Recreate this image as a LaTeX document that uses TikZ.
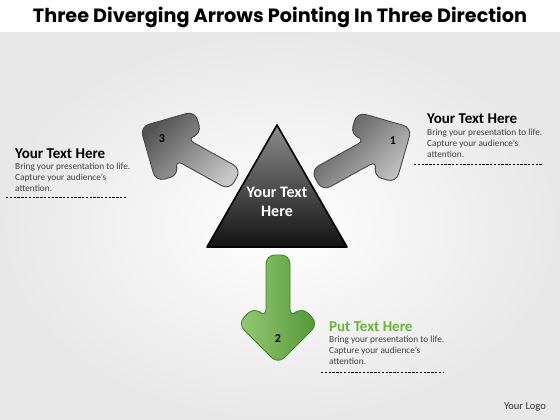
\documentclass[tikz,border=0pt]{standalone}
\usepackage{fontspec}
\setmainfont{Carlito}
\newfontfamily\titlefont{Poppins}
\usetikzlibrary{positioning}

\definecolor{leafgreen}{HTML}{6AB43A}
\definecolor{leafdark}{HTML}{3F8A22}

\tikzset{
  pics/fatarrow/.style={code={
    \path[#1] (16.97,0) -- (-23.33,40.31) -- (-40.31,23.33) -- (-28.97,12)
      -- (-92,12) -- (-92,-12) -- (-28.97,-12) -- (-40.31,-23.33)
      -- (-23.33,-40.31) -- cycle;
  }},
  arrowgray/.style={draw=black!72, line width=0.9pt, rounded corners=9pt,
    top color=black!68, bottom color=black!22, shading angle=45},
  arrowgreen/.style={draw=leafdark, line width=0.9pt, rounded corners=9pt,
    left color=leafgreen!70!white, right color=leafdark!90, shading angle=90},
  heading/.style={anchor=base west, inner sep=0pt, font=\bfseries\fontsize{15}{17}\selectfont},
  bodytext/.style={anchor=north west, inner sep=0pt, align=left, text=black!75,
    font=\fontsize{9.3}{11}\selectfont},
  numlabel/.style={font=\bfseries\fontsize{12}{14}\selectfont},
  rule/.style={dash pattern=on 2.4pt off 1.4pt, line width=0.8pt}
}

\begin{document}
\begin{tikzpicture}[x=1pt,y=-1pt]
    \useasboundingbox (0,0) rectangle (560,420);
    % Background
    \fill[white] (0,0) rectangle (560,420);
    \shade[inner color=white, outer color=black!9] (0,33) rectangle (560,420);

    % Title
    \node[font=\titlefont\bfseries\fontsize{19.2}{22}\selectfont] (title) at (280,17)
      {Three Diverging Arrows Pointing In Three Direction};

    % Arrows
    \pic[rotate=29] at (397,136) {fatarrow=arrowgray};
    \pic[rotate=151] at (155,135) {fatarrow=arrowgray};
    \pic[rotate=-90] at (278,347) {fatarrow=arrowgreen};
    \node[numlabel] (n1) at (393,141) {1};
    \node[numlabel] (n2) at (278,339) {2};
    \node[numlabel] (n3) at (162,139) {3};

    % Centre triangle
    \coordinate (apex) at (277,125);
    \coordinate (baseR) at (347,247);
    \coordinate (baseL) at (207,247);
    \shade[draw=black, line width=1.6pt, line join=round, top color=black!45,
      middle color=black!93, bottom color=black!93] (apex) -- (baseR) -- (baseL) -- cycle;
    \node[text=white, align=center, font=\bfseries\fontsize{16}{19}\selectfont] (centre)
      at (277,202) {Your Text\\Here};

    % Right text block
    \node[heading] (headR) at (427,124) {Your Text Here};
    \node[bodytext, below=5pt of headR.south west, anchor=north west] (bodyR)
      {Bring your presentation to life.\\Capture your audience's\\attention.};
    \coordinate (ruleRa) at (414,164);
    \coordinate (ruleRb) at (543,164);
    \draw[rule] (ruleRa) -- (ruleRb);

    % Left text block
    \node[heading] (headL) at (15,158) {Your Text Here};
    \node[bodytext, below=5pt of headL.south west, anchor=north west] (bodyL)
      {Bring your presentation to life.\\Capture your audience's\\attention.};
    \coordinate (ruleLa) at (6,197);
    \coordinate (ruleLb) at (126,197);
    \draw[rule] (ruleLa) -- (ruleLb);

    % Bottom text block
    \node[heading, text=leafgreen] (headB) at (329,331) {Put Text Here};
    \node[bodytext, below=5pt of headB.south west, anchor=north west] (bodyB)
      {Bring your presentation to life.\\Capture your audience's\\attention.};
    \coordinate (ruleBa) at (321,372);
    \coordinate (ruleBb) at (443,372);
    \draw[rule] (ruleBa) -- (ruleBb);

    % Logo
    \node[text=black!80, font=\fontsize{10.5}{12}\selectfont] (logo) at (525,407) {Your Logo};
\end{tikzpicture}
\end{document}
